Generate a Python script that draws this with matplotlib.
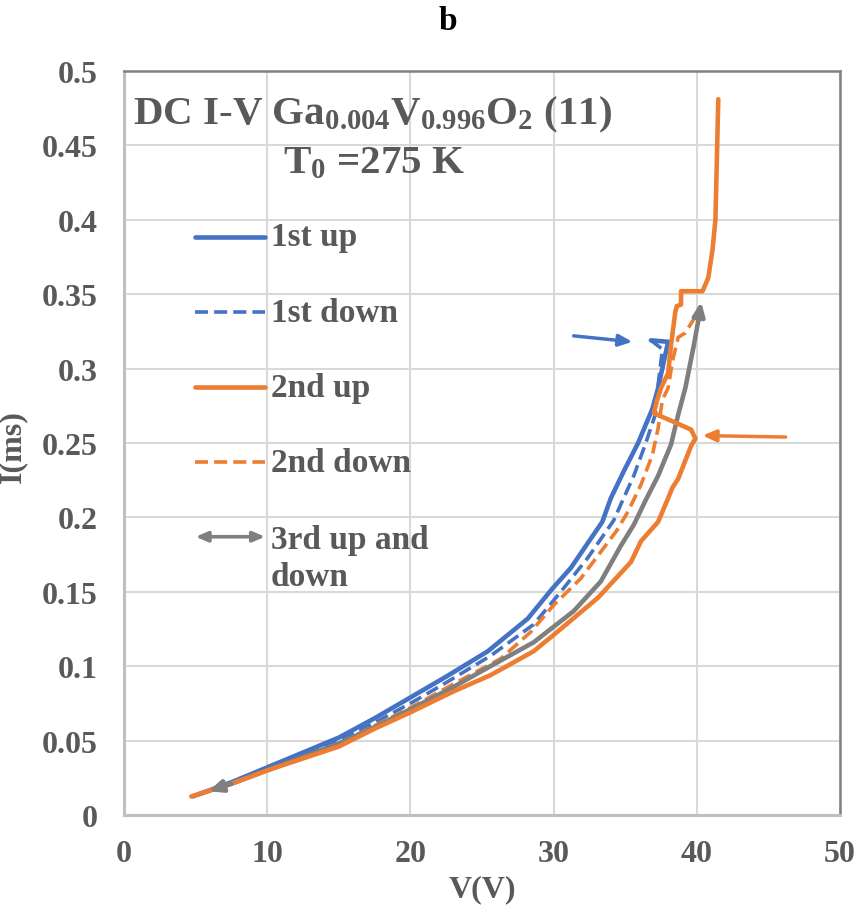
import matplotlib
matplotlib.use("Agg")
import matplotlib.pyplot as plt
from matplotlib.ticker import FuncFormatter, MultipleLocator

plt.rcParams['font.family'] = ['Liberation Serif', 'DejaVu Serif']
plt.rcParams['font.weight'] = 'bold'
plt.rcParams['mathtext.fontset'] = 'custom'
plt.rcParams['mathtext.rm'] = 'Liberation Serif:bold'
plt.rcParams['mathtext.it'] = 'Liberation Serif:bold'
plt.rcParams['mathtext.bf'] = 'Liberation Serif:bold'

# ---- data ----
v_up1 = [4.8, 7.5, 10, 12.5, 15, 17.5, 20, 22.5, 25.4, 28.2, 29.9, 31.2, 33.4, 34.0, 34.9, 35.9, 36.9, 37.3, 37.7, 38.0, 36.8]
i_up1 = [0.0125, 0.022, 0.032, 0.042, 0.052, 0.065, 0.079, 0.093, 0.110, 0.132, 0.152, 0.166, 0.197, 0.213, 0.231, 0.250, 0.273, 0.287, 0.305, 0.318, 0.319]

v_dn1 = [36.8, 37.6, 37.3, 37.1, 36.4, 35.6, 34.8, 34.2, 32.4, 30.5, 28.6, 25.6, 22.5, 20, 17.5, 15, 12.5, 10, 7.5, 5.0]
i_dn1 = [0.319, 0.313, 0.289, 0.269, 0.249, 0.228, 0.211, 0.198, 0.173, 0.150, 0.128, 0.107, 0.089, 0.075, 0.062, 0.050, 0.040, 0.031, 0.021, 0.013]

v_up2 = [4.7, 7.5, 10, 12.5, 15, 17.5, 20, 23.0, 25.6, 28.6, 30.0, 33.1, 35.4, 36.1, 37.3, 38.0, 38.3, 38.7, 39.6, 39.9,
         39.6, 38.2, 37.0, 37.2, 37.5, 38.0, 38.2, 38.5, 38.6, 38.9, 38.9, 40.4, 40.8, 41.1, 41.3, 41.4, 41.5]
i_up2 = [0.0125, 0.021, 0.030, 0.038, 0.046, 0.058, 0.069, 0.083, 0.094, 0.110, 0.121, 0.146, 0.170, 0.184, 0.197, 0.213, 0.220, 0.226, 0.248, 0.253,
         0.259, 0.265, 0.270, 0.278, 0.287, 0.297, 0.316, 0.338, 0.342, 0.343, 0.352, 0.352, 0.361, 0.380, 0.400, 0.440, 0.481]

v_dn2 = [39.9, 39.2, 38.7, 38.3, 38.0, 37.6, 37.3, 36.9, 36.1, 35.2, 34.4, 31.9, 30.0, 28.4, 26.3, 23.0, 20, 17.5, 15, 12.5, 10, 7.5, 5.0]
i_dn2 = [0.335, 0.324, 0.321, 0.305, 0.287, 0.279, 0.260, 0.242, 0.222, 0.204, 0.191, 0.159, 0.141, 0.123, 0.105, 0.088, 0.072, 0.060, 0.048, 0.039, 0.030, 0.021, 0.013]

v_3rd = [40.3, 40.1, 39.8, 39.2, 38.7, 38.2, 37.3, 36.4, 35.6, 34.7, 33.3, 31.4, 28.6, 25.4, 23.0, 20, 17.5, 15, 12.5, 10, 7.5, 5.9]
i_3rd = [0.345, 0.332, 0.316, 0.287, 0.269, 0.249, 0.228, 0.211, 0.195, 0.181, 0.157, 0.137, 0.116, 0.099, 0.086, 0.071, 0.059, 0.048, 0.039, 0.030, 0.021, 0.016]

labels = ['1st up', '1st down', '2nd up', '2nd down', '3rd up and\ndown']

blue = '#4472C4'
orange = '#ED7D31'
gray = '#7F7F7F'
txt = '#595959'
dash = (0, (3.6, 1.7))

fig = plt.figure(figsize=(8.61, 9.12), dpi=100)
ax = fig.add_axes([124/861, 1-816/912, 716/861, 744/912])

head = '-|>,head_length=0.8,head_width=0.35'

ax.plot(v_up1, i_up1, color=blue, lw=3.3, solid_joinstyle='round', solid_capstyle='round')
ax.plot(v_dn1, i_dn1, color=blue, lw=2.6, ls=dash)
ax.plot(v_dn2, i_dn2, color=orange, lw=2.6, ls=dash)
ax.plot(v_3rd[1:-1], i_3rd[1:-1], color=gray, lw=3.3, solid_capstyle='round', solid_joinstyle='round')
# arrow heads at both ends of the 3rd sweep
ax.annotate('', xy=(v_3rd[0], i_3rd[0]), xytext=(v_3rd[1], i_3rd[1]),
            arrowprops=dict(arrowstyle=head, color=gray, lw=3.3, shrinkA=0, shrinkB=0))
ax.annotate('', xy=(v_3rd[-1], i_3rd[-1]), xytext=(v_3rd[-2], i_3rd[-2]),
            arrowprops=dict(arrowstyle=head, color=gray, lw=3.3, shrinkA=0, shrinkB=0))
ax.plot(v_up2, i_up2, color=orange, lw=3.3, solid_joinstyle='round', solid_capstyle='round')

# pointer arrows
ax.annotate('', xy=(35.5, 0.318), xytext=(31.4, 0.322),
            arrowprops=dict(arrowstyle=head, color=blue, lw=2.5, shrinkA=0, shrinkB=0))
ax.annotate('', xy=(40.4, 0.255), xytext=(46.2, 0.254),
            arrowprops=dict(arrowstyle=head, color=orange, lw=2.5, shrinkA=0, shrinkB=0))

ax.set_xlim(0, 50)
ax.set_ylim(0, 0.5)
ax.xaxis.set_major_locator(MultipleLocator(10))
ax.yaxis.set_major_locator(MultipleLocator(0.05))
ax.yaxis.set_major_formatter(FuncFormatter(lambda v, p: '%g' % round(v, 3)))
ax.grid(True, color='#D9D9D9', lw=1.5)
ax.set_axisbelow(True)
ax.tick_params(length=0, labelsize=23, labelcolor=txt)
ax.tick_params(axis='y', pad=19)
ax.tick_params(axis='x', pad=17)
for s in ['top', 'right']:
    ax.spines[s].set_color('#808080')
    ax.spines[s].set_linewidth(1.8)
for s in ['left', 'bottom']:
    ax.spines[s].set_color('#BFBFBF')
    ax.spines[s].set_linewidth(2.2)

ax.set_xlabel('V(V)', fontsize=23, color=txt, fontweight='bold', labelpad=5)
ax.set_ylabel('I(ms)', fontsize=23, color=txt, fontweight='bold')
ax.yaxis.set_label_coords(-0.135, 0.496)

ax.text(0.0126, 0.929, r'DC I-V Ga$_{0.004}$V$_{0.996}$O$_2$ (11)', transform=ax.transAxes,
        fontsize=29.5, color=txt, ha='left', va='baseline')
ax.text(0.222, 0.864, r'T$_0$ =275 K', transform=ax.transAxes,
        fontsize=29.5, color=txt, ha='left', va='baseline')

# legend drawn by hand
rows = [0.777, 0.676, 0.575, 0.474, 0.374]
styles = [(blue, '-', 3.3), (blue, dash, 2.6), (orange, '-', 3.3), (orange, dash, 2.6)]
for k in range(4):
    c, ls, lw = styles[k]
    ax.plot([0.099, 0.197], [rows[k], rows[k]], transform=ax.transAxes, color=c, ls=ls, lw=lw,
            solid_capstyle='round', clip_on=False)
    ax.text(0.205, rows[k], labels[k], transform=ax.transAxes, fontsize=24, color=txt, ha='left', va='center')
ax.annotate('', xy=(0.100, rows[4]), xytext=(0.197, rows[4]), xycoords='axes fraction', textcoords='axes fraction',
            arrowprops=dict(arrowstyle='<|-|>,head_length=0.7,head_width=0.3', color=gray, lw=2.6, shrinkA=0, shrinkB=0))
ax.text(0.205, 0.345, labels[4], transform=ax.transAxes, fontsize=24, color=txt, ha='left', va='center',
        linespacing=1.25)

fig.text(448/861, 1-22/912, 'b', fontsize=24, color='black', ha='center', va='center')

fig.savefig('out.png', dpi=100)
